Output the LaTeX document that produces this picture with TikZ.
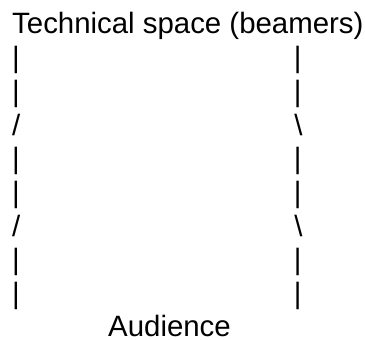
\documentclass[tikz,border=0pt]{standalone}
\usepackage{fontspec}
\setmainfont{Liberation Sans}
\begin{document}
\begin{tikzpicture}[
  x=1pt, y=1pt,
  every node/.style={font=\fontsize{29.4}{33.7}\selectfont, inner sep=0pt, anchor=base west}
]
\useasboundingbox (0,0) rectangle (365,-340);

\node (title) at (12,-34) {Technical space (beamers)};

% bars on both sides
\foreach \r in {1,2,4,5,7,8} {
  \node (l\r) at (12,{-34-33.7*\r}) {|};
  \node (r\r) at (293.6,{-34-33.7*\r}) {|};
}
% bends
\foreach \r in {3,6} {
  \node (l\r) at (12,{-34-33.7*\r}) {/};
  \node (r\r) at (294.2,{-34-33.7*\r}) {\textbackslash};
}

\node (audience) at (108,-336.8) {Audience};
\end{tikzpicture}
\end{document}
